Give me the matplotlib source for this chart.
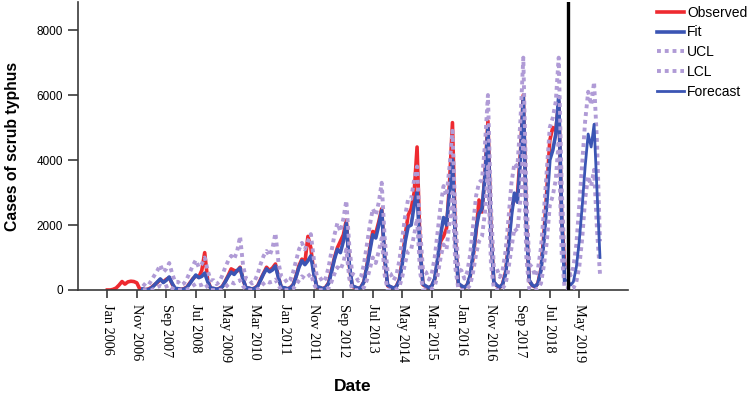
import numpy as np
import pandas as pd
import matplotlib
matplotlib.use('Agg')
import matplotlib.pyplot as plt
import matplotlib.dates as mdates

# ---------------- data (monthly, Jan..Dec per row) ----------------
observed = [
    0, 0, 20, 60, 150, 260, 180, 250, 270, 260, 220, 30,            # 2006
    20, 10, 30, 80, 160, 230, 320, 250, 330, 380, 180, 40,          # 2007
    30, 20, 40, 90, 220, 350, 430, 400, 600, 1150, 300, 60,         # 2008
    40, 20, 50, 110, 270, 450, 650, 600, 580, 700, 320, 60,         # 2009
    50, 30, 60, 130, 330, 520, 700, 600, 680, 800, 400, 70,         # 2010
    60, 30, 70, 160, 420, 750, 950, 850, 1650, 1300, 520, 90,       # 2011
    70, 40, 80, 220, 600, 1000, 1300, 1500, 1700, 2150, 750, 110,   # 2012
    80, 40, 90, 260, 750, 1300, 1800, 1750, 2100, 2500, 950, 130,   # 2013
    90, 50, 110, 320, 900, 1700, 2300, 2500, 3000, 4400, 1300, 160, # 2014
    100, 60, 130, 330, 900, 1500, 1650, 1900, 3300, 5150, 1500, 180,# 2015
    120, 70, 160, 420, 1000, 1800, 2770, 2400, 3600, 5200, 1800, 230,  # 2016
    130, 80, 180, 550, 1400, 2500, 2800, 2900, 4200, 6000, 2100, 280,  # 2017
    140, 90, 210, 650, 1700, 3100, 4600, 5000, 4900, 5800, 2200, 800,  # 2018
]
fit = [
    30, 10, 20, 60, 150, 250, 340, 230, 300, 400, 200, 50,          # 2007
    40, 20, 30, 80, 200, 330, 460, 380, 420, 520, 260, 60,          # 2008
    50, 25, 40, 100, 250, 420, 550, 480, 600, 680, 330, 70,         # 2009
    60, 30, 50, 120, 300, 500, 650, 560, 620, 740, 380, 80,         # 2010
    70, 40, 60, 150, 400, 700, 900, 780, 900, 1050, 500, 100,       # 2011
    80, 40, 70, 200, 550, 950, 1250, 1150, 1500, 2050, 800, 130,    # 2012
    90, 50, 80, 250, 700, 1200, 1700, 1600, 2000, 2450, 1000, 150,  # 2013
    100, 60, 100, 300, 800, 1500, 1950, 2000, 2600, 3000, 1200, 180,# 2014
    120, 70, 120, 350, 950, 1700, 2230, 2000, 3000, 4000, 1400, 200,# 2015
    130, 80, 150, 450, 1100, 1900, 2350, 2500, 3500, 5000, 1700, 250,  # 2016
    140, 90, 170, 500, 1300, 2300, 2980, 2700, 4000, 5950, 2000, 300,  # 2017
    150, 100, 200, 600, 1500, 2700, 4000, 4300, 4800, 5950, 2200, 300, # 2018
]
ucl = [
    200, 120, 150, 300, 450, 600, 770, 550, 650, 830, 500, 250,     # 2007
    250, 150, 200, 350, 550, 750, 920, 700, 800, 1000, 600, 300,    # 2008
    300, 180, 250, 450, 700, 900, 1050, 950, 1200, 1650, 750, 350,  # 2009
    320, 200, 280, 500, 800, 1050, 1200, 1050, 1300, 1750, 850, 400,   # 2010
    350, 220, 300, 550, 900, 1250, 1450, 1250, 1500, 1720, 950, 450,   # 2011
    400, 250, 350, 700, 1200, 1700, 2060, 1800, 2200, 2750, 1350, 500, # 2012
    450, 280, 400, 800, 1400, 2000, 2500, 2300, 2700, 3300, 1600, 550, # 2013
    500, 300, 450, 900, 1600, 2300, 2800, 2800, 3400, 3800, 1900, 600, # 2014
    550, 320, 500, 1000, 1800, 2600, 3200, 2900, 3800, 4900, 2200, 650,# 2015
    600, 350, 550, 1100, 2000, 2900, 3300, 3400, 4500, 6000, 2600, 700,# 2016
    650, 400, 600, 1200, 2200, 3300, 3900, 3800, 5200, 7150, 3000, 800,# 2017
    700, 420, 650, 1300, 2400, 3700, 5000, 5300, 5800, 7150, 3200, 800,# 2018
    700, 450, 700, 1400, 2600, 3900, 5200, 6100, 5700, 6400, 4500, 1500,  # 2019
]
lcl = [
    0, 0, 0, 0, 40, 90, 130, 80, 110, 150, 50, 0,                   # 2007
    0, 0, 0, 10, 60, 130, 190, 140, 160, 210, 80, 0,                # 2008
    0, 0, 0, 10, 80, 170, 240, 200, 260, 300, 120, 0,               # 2009
    0, 0, 0, 20, 100, 200, 270, 230, 260, 320, 140, 0,              # 2010
    0, 0, 10, 40, 150, 300, 420, 350, 420, 500, 200, 10,            # 2011
    0, 0, 10, 60, 250, 500, 700, 620, 850, 1250, 350, 20,           # 2012
    0, 0, 20, 80, 300, 650, 1000, 830, 1200, 1600, 450, 20,         # 2013
    0, 0, 20, 100, 400, 850, 1200, 1250, 1700, 2200, 550, 30,       # 2014
    0, 0, 30, 120, 450, 1000, 1400, 1250, 2100, 3000, 650, 30,      # 2015
    0, 0, 40, 150, 550, 1100, 1500, 1650, 2400, 3800, 800, 40,      # 2016
    0, 0, 50, 180, 650, 1300, 1900, 1800, 2800, 4600, 1000, 50,     # 2017
    0, 0, 60, 200, 750, 1500, 2600, 2900, 3400, 4600, 1100, 50,     # 2018
    50, 0, 50, 250, 700, 1600, 2800, 3500, 3200, 3700, 1800, 500,   # 2019
]
forecast = [300, 150, 250, 700, 1500, 2600, 3800, 4800, 4400, 5100, 3000, 1000]  # 2019

tick_labels = ['Jan 2006', 'Nov 2006', 'Sep 2007', 'Jul 2008', 'May 2009',
               'Mar 2010', 'Jan 2011', 'Nov 2011', 'Sep 2012', 'Jul 2013',
               'May 2014', 'Mar 2015', 'Jan 2016', 'Nov 2016', 'Sep 2017',
               'Jul 2018', 'May 2019']
y_ticks = [0, 2000, 4000, 6000, 8000]
forecast_origin = '2019-01-01'

obs_dates = pd.date_range('2006-01-01', periods=len(observed), freq='MS')
fit_dates = pd.date_range('2007-01-01', periods=len(fit), freq='MS')
ci_dates = pd.date_range('2007-01-01', periods=len(ucl), freq='MS')
fc_dates = pd.date_range(forecast_origin, periods=len(forecast), freq='MS')
tick_dates = pd.to_datetime(tick_labels, format='%b %Y')

# ---------------- style ----------------
RED = '#ee2a30'
BLUE = '#3b55b4'
PURPLE = '#b09bd6'
AX = '#3a3a3a'

fig = plt.figure(figsize=(7.48, 3.99), dpi=100)
ax = fig.add_axes([78 / 748, 109 / 399, 550 / 748, 288 / 399])

ax.plot(obs_dates, observed, color=RED, lw=2.6, label='Observed', zorder=2)
ax.plot(fit_dates, fit, color=BLUE, lw=2.6, label='Fit', zorder=3)
ax.plot(ci_dates, ucl, color=PURPLE, lw=2.8, ls=(0, (1, 1)), label='UCL', zorder=4)
ax.plot(ci_dates, lcl, color=PURPLE, lw=2.8, ls=(0, (1, 1)), label='LCL', zorder=4)
ax.plot(fc_dates, forecast, color=BLUE, lw=2.0, label='Forecast', zorder=5)
ax.axvline(pd.Timestamp(forecast_origin), color='black', lw=2.4, zorder=6)

ax.set_xlim(pd.Timestamp('2005-03-04'), pd.Timestamp('2020-09-15'))
ax.set_ylim(0, 8862)

ax.set_xticks(tick_dates)
ax.set_xticklabels(tick_labels, rotation=-90, family='Liberation Serif', fontsize=10.3)
ax.set_yticks(y_ticks)
ax.set_yticklabels([str(v) for v in y_ticks], family='Liberation Sans', fontsize=8.5)

for s in ['top', 'right']:
    ax.spines[s].set_visible(False)
for s in ['left', 'bottom']:
    ax.spines[s].set_color(AX)
    ax.spines[s].set_linewidth(1.2)
ax.tick_params(axis='x', length=6, width=1.2, color=AX, pad=4)
ax.tick_params(axis='y', length=7, width=1.2, color=AX, pad=4)

ax.set_xlabel('Date', family='Liberation Sans', fontweight='bold', fontsize=12.5, labelpad=12)
ax.set_ylabel('Cases of scrub typhus', family='Liberation Sans', fontweight='bold',
              fontsize=11.3, labelpad=12)

leg = fig.legend(loc='upper left', bbox_to_anchor=(651 / 748, 1.0), frameon=False,
                 prop={'family': 'Liberation Sans', 'size': 10},
                 handlelength=2.0, handletextpad=0.2, labelspacing=0.42,
                 borderaxespad=0)

fig.savefig('out.png', dpi=100)
